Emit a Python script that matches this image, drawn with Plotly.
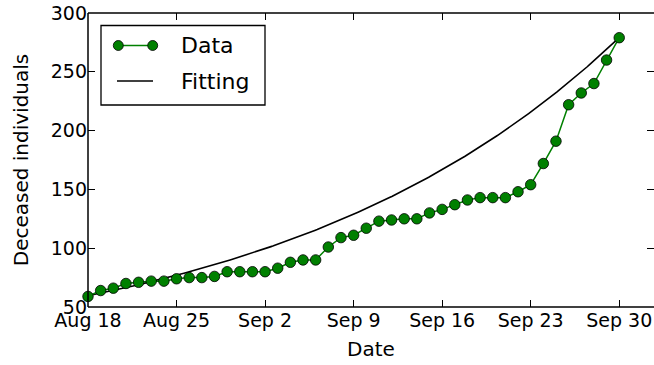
import numpy as np
import plotly.graph_objects as go

# Daily cumulative deceased counts, one value per day starting Aug 18
day_index = list(range(43))
deceased = [59, 64, 66, 70, 71, 72, 72, 74, 75, 75, 76, 80, 80, 80, 80, 83,
            88, 90, 90, 101, 109, 111, 117, 123, 124, 125, 125, 130, 133, 137,
            141, 143, 143, 143, 148, 154, 172, 191, 222, 232, 240, 260, 279]

# Axis tick positions / labels
tick_days = [0, 7, 14, 21, 28, 35, 42]
tick_labels = ["Aug 18", "Aug 25", "Sep 2", "Sep 9", "Sep 16", "Sep 23", "Sep 30"]
y_ticks = [50, 100, 150, 200, 250, 300]

# Exponential fit parameters: y = A * exp(B * t)
FIT_A = 59.5
FIT_B = 0.0368

FONT = "DejaVu Sans"
GREEN = "#008000"

t_fit = np.linspace(0, 42, 300)
y_fit = FIT_A * np.exp(FIT_B * t_fit)

fig = go.Figure()
fig.add_trace(go.Scatter(
    x=t_fit, y=y_fit, mode="lines", name="Fitting",
    line=dict(color="black", width=1.6), showlegend=False,
))
fig.add_trace(go.Scatter(
    x=day_index, y=deceased, mode="lines+markers", name="Data",
    line=dict(color=GREEN, width=1.5),
    marker=dict(color=GREEN, size=10.5, line=dict(color="black", width=0.8)),
    showlegend=False, cliponaxis=False,
))

W, H = 654, 365
L, R, T, B = 88, 0, 13, 58
pw, ph = W - L - R, H - T - B

def px(x):
    return (x - L) / pw

def py(y):
    return 1 - (y - T) / ph

frame = dict(color="black", width=1.5)
shapes = [
    # frame: left, bottom, top (the right side runs off the canvas)
    dict(type="line", xref="paper", yref="paper", x0=0, x1=0, y0=0, y1=1,
         line=frame, layer="above"),
    dict(type="line", xref="paper", yref="paper", x0=0, x1=1, y0=0, y1=0,
         line=frame, layer="above"),
    dict(type="line", xref="paper", yref="paper", x0=0, x1=1, y0=1, y1=1,
         line=frame, layer="above"),
    # legend box
    dict(type="rect", xref="paper", yref="paper",
         x0=px(101), x1=px(265), y0=py(105), y1=py(25.5),
         line=dict(color="black", width=1.3), fillcolor="white", layer="above"),
    dict(type="line", xref="paper", yref="paper",
         x0=px(118), x1=px(153), y0=py(45.5), y1=py(45.5),
         line=dict(color=GREEN, width=1.5), layer="above"),
    dict(type="line", xref="paper", yref="paper",
         x0=px(117), x1=px(153), y0=py(81), y1=py(81),
         line=dict(color="black", width=1.6), layer="above"),
]
for cx in (118.3, 152.7):
    shapes.append(dict(
        type="circle", xref="paper", yref="paper",
        xsizemode="pixel", ysizemode="pixel",
        xanchor=px(cx), yanchor=py(45.5),
        x0=-5, x1=5, y0=-5, y1=5,
        fillcolor=GREEN, line=dict(color="black", width=0.8), layer="above",
    ))

annotations = [
    dict(text="Data", xref="paper", yref="paper", x=px(179), y=py(45.5),
         xanchor="left", yanchor="middle", showarrow=False,
         font=dict(family=FONT, size=22, color="black")),
    dict(text="Fitting", xref="paper", yref="paper", x=px(179), y=py(81),
         xanchor="left", yanchor="middle", showarrow=False,
         font=dict(family=FONT, size=22, color="black")),
]

fig.update_layout(
    width=W, height=H,
    margin=dict(l=L, r=R, t=T, b=B, pad=0),
    paper_bgcolor="white", plot_bgcolor="white",
    font=dict(family=FONT, size=19, color="black"),
    shapes=shapes, annotations=annotations,
    xaxis=dict(
        range=[0, 44.75], tickmode="array", tickvals=tick_days, ticktext=tick_labels,
        ticks="inside", ticklen=7, tickwidth=1, tickcolor="black",
        showline=False, mirror="allticks",
        showgrid=False, zeroline=False,
        tickfont=dict(family=FONT, size=19),
        title=dict(text="Date", font=dict(family=FONT, size=20), standoff=11),
    ),
    yaxis=dict(
        range=[50, 300], tickmode="array", tickvals=y_ticks,
        ticks="inside", ticklen=7, tickwidth=1, tickcolor="black",
        showline=False, mirror="allticks",
        showgrid=False, zeroline=False,
        tickfont=dict(family=FONT, size=19),
        title=dict(text="Deceased individuals", font=dict(family=FONT, size=20), standoff=16),
    ),
)

fig.write_html("out.html")
